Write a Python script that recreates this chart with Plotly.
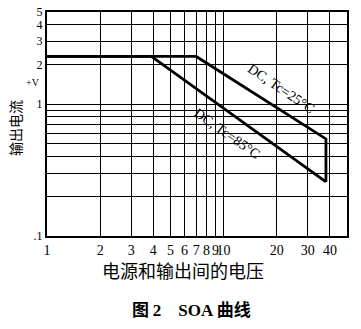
import plotly.graph_objects as go
import math

# Data
x_25 = [1, 7.0, 38, 38]
y_25 = [2.3, 2.3, 0.545, 0.257]
x_85 = [1, 3.9, 38]
y_85 = [2.3, 2.3, 0.257]

x_ticks = [1, 2, 3, 4, 5, 6, 7, 8, 9, 10, 20, 30, 40]
x_ticktext = ["1", "2", "3", "4", "5", "6", "7", "8", "9", "10", "20", "30", "40"]
y_ticks = [0.1, 0.2, 0.3, 0.4, 0.5, 0.6, 0.7, 0.8, 0.9, 1, 2, 3, 4, 5]
y_ticktext = [".1", "", "", "", "", "", "", "", "", "1", "2", "3", "4", "5"]

label_25 = "DC, Tc=25°C"
label_85 = "DC, Tc=85°C"
x_title = "电源和输出间的电压"
y_title = "输出电流"

W, H = 361, 329
L, R, T, B = 47, 14, 12, 93
pw, ph = W - L - R, H - T - B

def px(xp):
    return (xp - L) / pw

def py(yp):
    return (H - B - yp) / ph

serif = "Liberation Serif"
cjk = "Noto Sans CJK SC"

caption = ("<b>图 </b><span style='font-family:Liberation Serif'><b>2&nbsp;&nbsp;&nbsp;&nbsp;SOA </b></span>"
           "<b>曲线</b>")

fig = go.Figure()
fig.add_trace(go.Scatter(x=x_25, y=y_25, mode="lines",
                         line=dict(color="black", width=2.8), showlegend=False))
fig.add_trace(go.Scatter(x=x_85, y=y_85, mode="lines",
                         line=dict(color="black", width=2.8), showlegend=False))

def ann(text, xp, yp, size, family, angle=0):
    return dict(text=text, xref="paper", yref="paper", x=px(xp), y=py(yp),
                xanchor="center", yanchor="middle", showarrow=False,
                textangle=angle, font=dict(family=family, size=size, color="black"))

fig.update_layout(
    width=W, height=H,
    margin=dict(l=L, r=R, t=T, b=B, autoexpand=False),
    paper_bgcolor="white", plot_bgcolor="white",
    showlegend=False,
    xaxis=dict(type="log", range=[0, math.log10(50)],
               tickvals=x_ticks, ticktext=x_ticktext, tickangle=0,
               showgrid=True, gridcolor="black", gridwidth=1,
               showline=True, linecolor="black", linewidth=1.5, mirror=True,
               ticks="", zeroline=False,
               tickfont=dict(family=serif, size=14, color="black")),
    yaxis=dict(type="log", range=[-1, math.log10(5)],
               tickvals=y_ticks, ticktext=y_ticktext,
               showgrid=True, gridcolor="black", gridwidth=1,
               showline=True, linecolor="black", linewidth=2, mirror=True,
               ticks="", zeroline=False,
               tickfont=dict(family=serif, size=12, color="black")),
    annotations=[
        ann(label_25, 281, 88, 14, serif, 34),
        ann(label_85, 227, 133, 14, serif, 35),
        ann(x_title, 183, 270, 18, cjk),
        ann(y_title, 15, 128, 14, cjk, -90),
        ann("+V", 33, 82, 10, serif),
        ann(caption, 191, 308, 17, cjk),
    ],
)

fig.write_html("out.html")
